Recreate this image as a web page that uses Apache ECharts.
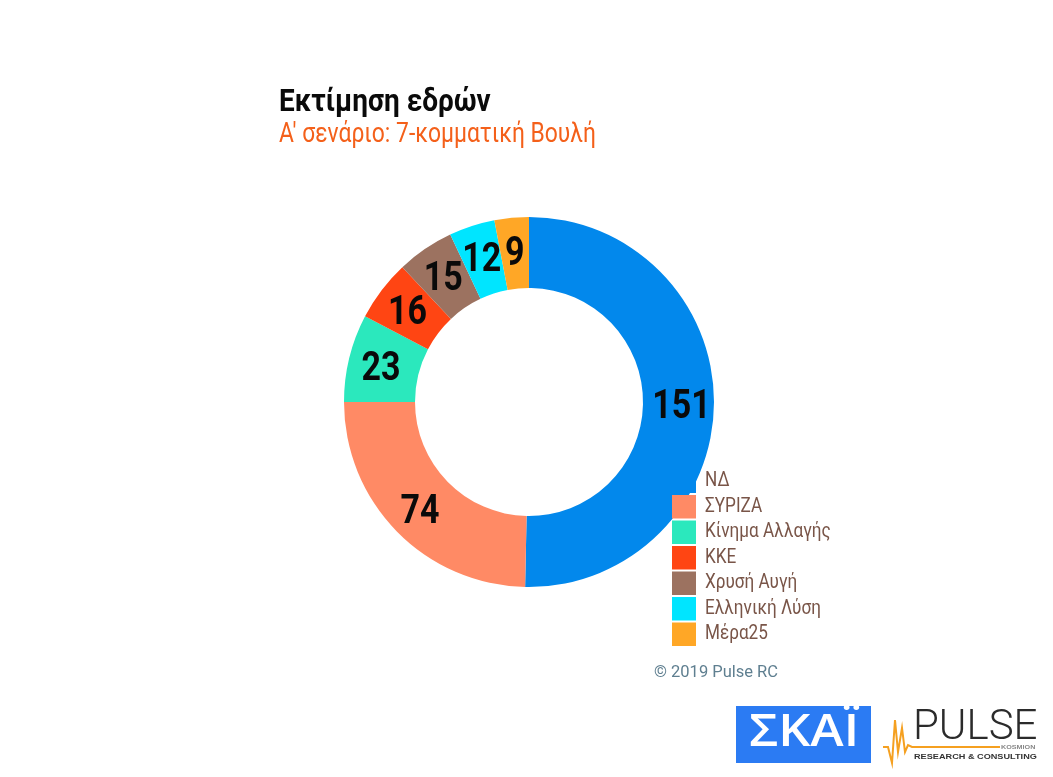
<!DOCTYPE html>
<html><head><meta charset="utf-8">
<style>html,body{margin:0;padding:0;background:#fff}#c{width:1053px;height:777px}</style>
<script src="https://cdn.jsdelivr.net/npm/echarts@6/dist/echarts.min.js"></script>
</head><body><div id="c"></div>
<script>
const parties = ['ΝΔ','ΣΥΡΙΖΑ','Κίνημα Αλλαγής','ΚΚΕ','Χρυσή Αυγή','Ελληνική Λύση','Μέρα25'];
const seats = [151,74,23,16,15,12,9];
const colors = ['#0288EC','#FF8A65','#2BE8BD','#FF4513','#9C7260','#00E5FF','#FFA726'];
const titleText = 'Εκτίμηση εδρών';
const subtitleText = "Α' σενάριο: 7-κομματική Βουλή";
const FONT = 'Roboto,sans-serif';
const chart = echarts.init(document.getElementById('c'), null, {renderer:'canvas'});
chart.setOption({
  animation:false,
  backgroundColor:'#fff',
  color:colors,
  title:[
    {text:titleText,left:279,top:87,padding:0,textStyle:{fontFamily:FONT,fontSize:32,fontWeight:'bold',color:'#0a0a0a'}},
    {text:subtitleText,left:279,top:122,padding:0,textStyle:{fontFamily:FONT,fontSize:27,fontWeight:'normal',color:'#F4601A'}}
  ],
  legend:{
    orient:'vertical',left:672,top:469.5,padding:0,itemWidth:24,itemHeight:23.5,itemGap:2,icon:'rect',selectedMode:false,
    data:parties,
    textStyle:{fontFamily:FONT,fontSize:20,color:'#795548',padding:[0,0,0,4]}
  },
  series:[{
    type:'pie',center:[529,402],radius:[114,185],startAngle:90,clockwise:true,silent:true,
    avoidLabelOverlap:false,
    labelLayout:{hideOverlap:false,dy:4.5},
    label:{show:true,position:'inside',formatter:'{c}',fontFamily:FONT,fontSize:40,fontWeight:'bold',color:'#0a0a0a'},
    labelLine:{show:false},
    itemStyle:{borderWidth:0},
    data:parties.map((name,i)=>({name,value:seats[i]}))
  }],
  graphic:[
    {type:'text',x:654,y:673,style:{text:'© 2019 Pulse RC',font:'16.5px '+FONT,fill:'#5F7F90',verticalAlign:'middle'}},
    {type:'rect',shape:{x:736,y:706,width:135,height:57},style:{fill:'#2B7BF3'}},
    {type:'text',x:804,y:733,scaleX:1.12,style:{text:'ΣΚΑΪ',font:'600 45px "Open Sans",sans-serif',fill:'#fff',align:'center',verticalAlign:'middle'}},
    {type:'text',x:913,y:749,style:{text:'PULSE',font:'300 42px Roboto,sans-serif',fill:'#2b2b2b',verticalAlign:'bottom'}},
    {type:'text',x:914,y:756.5,scaleX:1.22,style:{text:'RESEARCH & CONSULTING',font:'bold 7.5px "Liberation Sans",sans-serif',fill:'#333',verticalAlign:'middle'}},
    {type:'text',x:1001,y:747.5,scaleX:1.2,style:{text:'KOSMION',font:'bold 6px "Liberation Sans",sans-serif',fill:'#888',verticalAlign:'middle'}},
    {type:'polyline',shape:{points:[[883,747],[888,747],[892,763],[895,720],[898,752],[902,728],[905,752],[908,745],[912,747],[1000,747]]},style:{stroke:'#F5A020',lineWidth:2,fill:null}}
  ]
});
// Roboto Condensed is not installed: narrow the library's own text to its width.
const squeeze = new Map([[titleText,0.872],[subtitleText,0.847]]);
parties.forEach(p=>squeeze.set(p,0.857));
seats.forEach(s=>squeeze.set(String(s),0.85));
const zr = chart.getZr();
zr.storage.getDisplayList(true).forEach(el=>{
  if(el.type==='tspan' && squeeze.has(el.style.text)){
    el.scaleX = squeeze.get(el.style.text);
    el.originX = el.style.x || 0;
    el.markRedraw();
  }
});
zr.refresh();
</script></body></html>
